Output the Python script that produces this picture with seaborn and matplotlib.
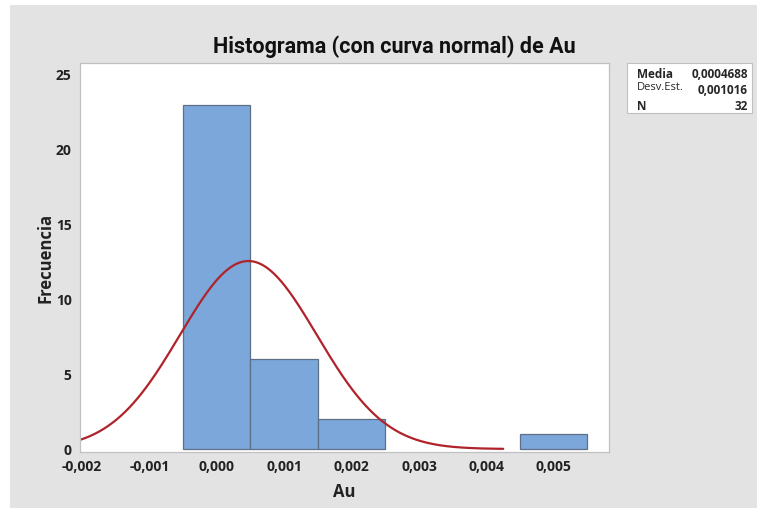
import numpy as np
import pandas as pd
import matplotlib
matplotlib.use("Agg")
import matplotlib.pyplot as plt
from matplotlib.patches import Rectangle
import seaborn as sns

# Histogram data (bin centres and counts) and summary statistics
bin_centers = [0.000, 0.001, 0.002, 0.005]
counts = [23, 6, 2, 1]
bin_width = 0.001
media = 0.0004688
desv_est = 0.001016
n_obs = 32
x_ticks = [-0.002, -0.001, 0.000, 0.001, 0.002, 0.003, 0.004, 0.005]
y_ticks = [0, 5, 10, 15, 20, 25]

sns.set_theme(style="white")
plt.rcParams["font.family"] = ["Open Sans", "DejaVu Sans"]

fig = plt.figure(figsize=(7.57, 5.08), dpi=100)
fig.patch.set_facecolor("white")
fig.patches.append(Rectangle((10 / 757, 0), 1, 1 - 5 / 508, transform=fig.transFigure,
                             facecolor="#e3e3e3", edgecolor="none", zorder=-10))

ax = fig.add_axes([80 / 757, 1 - 452 / 508, (609 - 80) / 757, (452 - 63) / 508])
ax.set_facecolor("white")

df = pd.DataFrame({"Au": bin_centers, "count": counts})
sns.histplot(data=df, x="Au", weights="count", binwidth=bin_width,
             binrange=(-0.0005, 0.0055), ax=ax,
             color="#7ba7da", edgecolor="#5e6f86", linewidth=0.9, alpha=1.0)
# empty bins are not drawn
for p in ax.patches:
    if p.get_height() == 0:
        p.set_visible(False)

# Fitted normal curve scaled to counts
xs = np.linspace(-0.00206, 0.00425, 300)
ys = n_obs * bin_width / (desv_est * np.sqrt(2 * np.pi)) * np.exp(-0.5 * ((xs - media) / desv_est) ** 2)
sns.lineplot(x=xs, y=ys, ax=ax, color="#b0232a", linewidth=1.6)

ax.set_xlim(-0.00203, 0.00582)
ax.set_ylim(-0.2, 25.8)
ax.set_xticks(x_ticks)
ax.set_xticklabels([f"{v:.3f}".replace(".", ",") for v in x_ticks],
                   fontsize=10, fontweight="bold", color="#222222")
ax.set_yticks(y_ticks)
ax.set_yticklabels([str(v) for v in y_ticks], fontsize=10, fontweight="bold", color="#222222")
ax.tick_params(axis="both", direction="out", length=3, width=0.8, color="#b0b0b0", pad=3)
for s in ax.spines.values():
    s.set_color("#c0c0c0")
    s.set_linewidth(0.9)

ax.set_xlabel("Au", fontsize=12, fontweight="bold", color="#222222", labelpad=6)
ax.set_ylabel("Frecuencia", fontsize=12, fontweight="bold", color="#222222", labelpad=1)

fig.text(394 / 757, 1 - 47 / 508, "Histograma (con curva normal) de Au",
         ha="center", va="center", fontsize=15.5, fontweight="bold", color="#111111",
         family=["Roboto", "DejaVu Sans"])

# Summary statistics box
fig.patches.append(Rectangle((627 / 757, 1 - 113 / 508), (752 - 627) / 757, 50 / 508,
                             transform=fig.transFigure, facecolor="white",
                             edgecolor="#c0c0c0", linewidth=0.8))
fig.text(637 / 757, 1 - 75 / 508, "Media", fontsize=8.5, fontweight="bold", va="center")
fig.text(637 / 757, 1 - 87 / 508, "Desv.Est.", fontsize=8, va="center")
fig.text(637 / 757, 1 - 106 / 508, "N", fontsize=8.5, fontweight="bold", va="center")
fig.text(748 / 757, 1 - 75 / 508, f"{media:.7f}".replace(".", ","), fontsize=8.5,
         fontweight="bold", va="center", ha="right")
fig.text(748 / 757, 1 - 91 / 508, f"{desv_est:.6f}".replace(".", ","), fontsize=8.5,
         fontweight="bold", va="center", ha="right")
fig.text(748 / 757, 1 - 106 / 508, str(n_obs), fontsize=8.5, fontweight="bold",
         va="center", ha="right")

fig.savefig("out.png", dpi=100)
